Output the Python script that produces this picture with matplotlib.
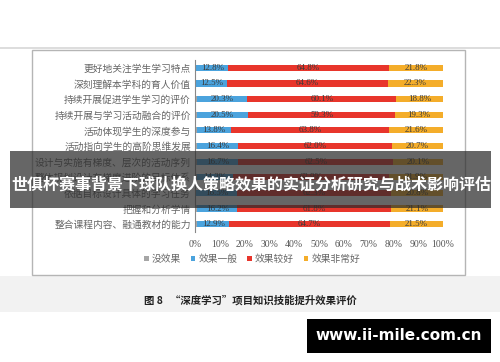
import matplotlib.pyplot as plt
import numpy as np
from matplotlib.patches import Rectangle

plt.rcParams['font.family'] = ['Noto Sans CJK SC', 'DejaVu Sans']

categories = [
    "更好地关注学生学习特点",
    "深刻理解本学科的育人价值",
    "持续开展促进学生学习的评价",
    "持续开展与学习活动融合的评价",
    "活动体现学生的深度参与",
    "活动指向学生的高阶思维发展",
    "设计与实施有梯度、层次的活动序列",
    "整体规划设计有梯度进阶的目标体系",
    "依据目标设计具体的学习任务",
    "把握和分析学情",
    "整合课程内容、融通教材的能力",
]
general = [12.8, 12.5, 20.3, 20.5, 13.8, 16.4, 16.7, 14.3, 16.5, 16.2, 12.9]
good = [64.8, 64.6, 60.1, 59.3, 63.8, 62.0, 62.5, 62.9, 62.3, 61.8, 64.7]
very_good = [21.8, 22.3, 18.8, 19.3, 21.6, 20.7, 20.1, 21.9, 20.8, 21.1, 21.5]
no_effect = [max(0.0, 100 - a - b - c) for a, b, c in zip(general, good, very_good)]

series = ["没效果", "效果一般", "效果较好", "效果非常好"]
colors = ["#a6a6a6", "#4ba3dd", "#e8352b", "#f4ad2a"]

W, H = 500, 362
fig = plt.figure(figsize=(5, 3.62), dpi=100)

# page decorations (pixel coords -> figure fraction)
def px(x0, y0, x1, y1):
    return (x0 / W, 1 - y1 / H), (x1 - x0) / W, (y1 - y0) / H

xy, w, h = px(0, 47.5, 500, 48.5)
fig.add_artist(Rectangle(xy, w, h, transform=fig.transFigure, color="#dddddd", lw=0))
xy, w, h = px(0, 276, 500, 312)
fig.add_artist(Rectangle(xy, w, h, transform=fig.transFigure, color="#f2f2f2", lw=0))
xy, w, h = px(32, 50, 465, 275)
fig.add_artist(Rectangle(xy, w, h, transform=fig.transFigure, facecolor="none",
                         edgecolor="#b5b5b5", lw=1.0))

ax = fig.add_axes([195 / W, 1 - 232 / H, 248 / W, 172 / H])
y = np.arange(len(categories))
left = np.zeros(len(categories))
data = [no_effect, general, good, very_good]
for name, vals, col in zip(series, data, colors):
    vals = np.array(vals)
    ax.barh(y, vals, left=left, height=0.4, color=col, label=name)
    for yi, (l, v) in enumerate(zip(left, vals)):
        if v > 5:
            ax.text(l + v / 2, yi, f"{v:.1f}%", ha="center", va="center",
                    fontsize=6.5, color="#3a3a3a", family="Liberation Serif")
    left += vals

ax.set_xlim(0, 100)
ax.set_ylim(len(categories) - 0.5, -0.5)
ax.set_yticks(y)
ax.set_yticklabels(categories, fontsize=7, color="#666666")
ax.set_xticks(np.arange(0, 101, 10))
ax.set_xticklabels([f"{t}%" for t in range(0, 101, 10)], fontsize=7,
                   color="#555555", family="Liberation Serif")
ax.tick_params(axis="both", length=0, pad=3)
ax.tick_params(axis="x", pad=6)
for s in ["top", "right", "bottom"]:
    ax.spines[s].set_visible(False)
ax.spines["left"].set_color("#888888")
ax.spines["left"].set_linewidth(0.8)

leg = fig.legend(loc="center", bbox_to_anchor=(252 / W, 1 - 259 / H), ncol=4,
                 frameon=False, fontsize=7, handlelength=0.5, handleheight=0.5,
                 handletextpad=0.3, columnspacing=1.0)
for t in leg.get_texts():
    t.set_color("#666666")

fig.text(0.5, 1 - 300 / H, "图 8   “深度学习”项目知识技能提升效果评价", ha="center",
         va="center", fontsize=7.5, fontweight="bold", color="#222222")

# dark overlay band with title
xy, w, h = px(10, 151, 491, 208)
fig.add_artist(Rectangle(xy, w, h, transform=fig.transFigure, color="#2b2b2b",
                         alpha=0.72, lw=0))
fig.text(251 / W, 1 - 184 / H, "世俱杯赛事背景下球队换人策略效果的实证分析研究与战术影响评估",
         ha="center", va="center", fontsize=11.5, fontweight="bold", color="white")

# watermark box
xy, w, h = px(307, 319, 491, 353)
fig.add_artist(Rectangle(xy, w, h, transform=fig.transFigure, color="black", lw=0))
fig.text(399 / W, 1 - 336 / H, "www.ii-mile.com.cn", ha="center", va="center",
         fontsize=11, fontweight="bold", color="white", family="DejaVu Sans")

fig.savefig("out.png", dpi=100)
